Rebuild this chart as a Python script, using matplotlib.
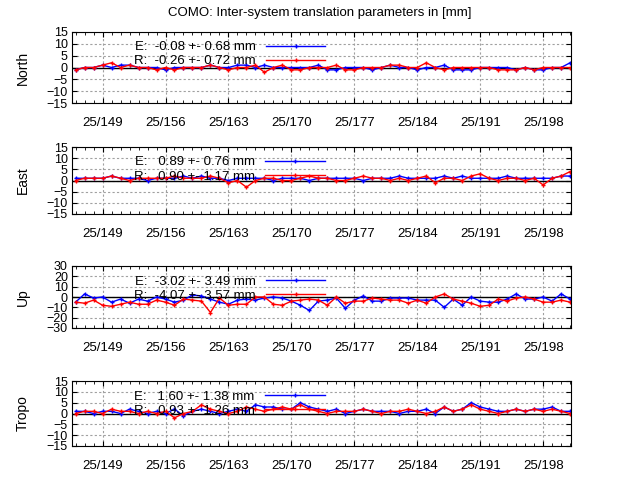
import numpy as np
import matplotlib
matplotlib.use("Agg")
import matplotlib.pyplot as plt
from matplotlib.ticker import MultipleLocator

plt.rcParams["font.family"] = "Liberation Sans"

days = np.arange(146, 202)
xticks = [149, 156, 163, 170, 177, 184, 191, 198]
xlabels = ["25/%d" % d for d in xticks]
panels = ["North", "East", "Up", "Tropo"]
legend_e = ["E:  -0.08 +- 0.68 mm", "E:   0.89 +- 0.76 mm", "E:  -3.02 +- 3.49 mm", "E:   1.60 +- 1.38 mm"]
legend_r = ["R:  -0.26 +- 0.72 mm", "R:   0.90 +- 1.17 mm", "R:  -4.07 +- 3.57 mm", "R:   0.93 +- 1.26 mm"]

north_e = [-1, 0, 0, 1, 0, 1, 1, 0, 0, 0, -1, 0, 0, 0, 0, 1, 0, 0, 1, 1, 0, 1, 0, 0, 0, 0, 0, 1,
           -1, -1, 0, 0, 0, -1, 0, 1, 0, 0, -1, 0, 0, 1, -1, -1, -1, 0, 0, 0, 0, -1, 0, -1, -1, 0, 0, 2]
north_r = [-1, 0, 0, 1, 2, 0, 1, 0, 0, -1, 0, -1, 0, 0, 0, 1, 0, -1, 0, 0, 1, -2, 0, 1, -1, -1, 0, 0,
           0, 1, -1, -1, 0, 0, 0, 1, 1, 0, 0, 2, 0, -1, 0, 0, 0, 0, 0, -1, -1, -1, 0, -1, 0, 0, 0, 0]
east_e = [1, 1, 1, 1, 2, 1, 1, 1, 0, 1, 1, 1, 2, 1, 2, 1, 1, 0, 1, 1, 1, 1, 0, 1, 1, 1, 0, 1,
          1, 1, 1, 1, 0, 1, 1, 1, 2, 1, 1, 1, 1, 2, 1, 2, 1, 1, 1, 1, 2, 1, 1, 1, 1, 1, 2, 2]
east_r = [0, 1, 1, 1, 2, 1, 0, 1, 1, 1, 1, 2, 1, 1, 1, 2, 1, -1, 0, -3, 0, 1, 1, 0, 0, 1, 2, 1,
          1, 0, 0, 1, 2, 1, 1, 0, 1, 0, 1, 2, -1, 1, 1, 0, 2, 3, 1, 0, 1, 1, 0, 1, -2, 1, 2, 4]
up_e = [-5, 3, -1, 0, -5, -2, -6, -2, -4, 0, -2, -5, -3, 2, 1, -2, -5, -7, -3, -2, -3, -1, 0, -1, -4, -8, -13, -4,
        -3, -1, -11, -3, 1, -4, -4, -1, -1, -1, -3, -3, -3, -10, -2, -8, 0, -4, -5, -5, -2, 3, -2, -2, 0, -4, 3, -2]
up_r = [-5, -6, -3, -8, -9, -7, -5, -7, -7, -3, -5, -8, -2, -3, -4, -15, -1, -8, -7, -7, 0, 0, -7, -8, -4, -3, -2, -3,
        -8, 0, -6, -4, -4, -1, -2, -3, -3, -6, -3, -6, 0, 3, -2, -4, -6, -9, -8, -2, -4, -1, 0, -2, -5, -5, -3, -5]
tropo_e = [1, 1, 0, 1, 1, 0, 2, 1, 0, 1, 0, 2, -1, 1, 2, 1, 0, 1, 2, 1, 4, 3, 3, 2, 2, 5, 3, 2,
           1, 2, 0, 1, 2, 1, 1, 1, 0, 1, 1, 2, 0, 3, 1, 2, 5, 3, 2, 1, 1, 2, 1, 2, 2, 3, 1, 1]
tropo_r = [0, 1, 1, 0, 2, 1, 1, 0, 1, 0, 1, -2, 0, 1, 4, 2, 1, 0, 1, 3, 2, 1, 2, 3, 2, 4, 2, 1,
           0, 1, 1, 1, 2, 1, 0, 1, 1, 2, 1, 0, 1, 3, 1, 2, 4, 2, 1, 0, 1, 2, 1, 2, 1, 2, 1, 0]
series_e = [north_e, east_e, up_e, tropo_e]
series_r = [north_r, east_r, up_r, tropo_r]
ylims = [15, 15, 30, 15]
ysteps = [5, 5, 10, 5]

fig = plt.figure(figsize=(6.4, 4.8), dpi=100)
tops = [32, 147, 266, 381]
heights = [71, 67, 62, 65]
for i, name in enumerate(panels):
    ax = fig.add_axes([72 / 640, 1 - (tops[i] + heights[i]) / 480, 499 / 640, heights[i] / 480])
    ax.grid(True, color="#a0a0a0", linestyle=(0, (2, 2)), linewidth=0.8)
    ax.axhline(0, color="black", lw=1)
    le, = ax.plot(days, series_e[i], color="blue", marker="+", ms=3, lw=1)
    lr, = ax.plot(days, series_r[i], color="red", marker="+", ms=3, lw=1)
    ax.set_xlim(145.6, 201.1)
    ax.set_ylim(-ylims[i], ylims[i])
    ax.yaxis.set_major_locator(MultipleLocator(ysteps[i]))
    ax.xaxis.set_minor_locator(MultipleLocator(1))
    ax.set_xticks(xticks, xlabels)
    ax.tick_params(which="both", direction="in", top=True, right=True, labelsize=9.5)
    ax.tick_params(axis="y", labelsize=9, pad=3)
    ax.tick_params(axis="x", pad=10)
    ax.set_ylabel(name, fontsize=10)
    ax.yaxis.set_label_coords(-0.085, 0.5)
    ax.legend([le, lr], [legend_e[i], legend_r[i]], loc="upper left", frameon=False,
              bbox_to_anchor=(0.1, 1.04), fontsize=9.5, handlelength=4.5,
              labelspacing=0.15, markerfirst=False)
fig.suptitle("COMO: Inter-system translation parameters in [mm]", fontsize=9.5, y=0.985)
fig.savefig("out.png", dpi=100)
